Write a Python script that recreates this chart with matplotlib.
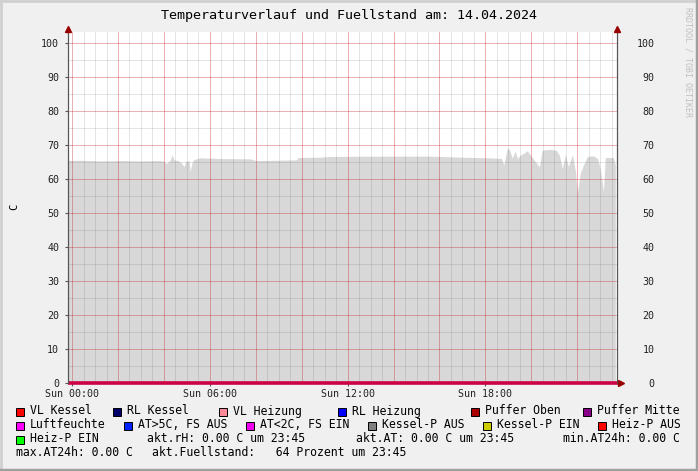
import matplotlib.pyplot as plt
from matplotlib.patches import Rectangle
from matplotlib.lines import Line2D
import numpy as np

W, H = 698, 471
MONO = "DejaVu Sans Mono"

title = "Temperaturverlauf und Fuellstand am: 14.04.2024"
y_label = "C"

# Fuellstand (Prozent), Zeit in Stunden ab Sun 00:00
hours = [-0.19, 0.35, 1.21, 2.08, 2.95, 3.82, 4.0, 4.09, 4.27, 4.36, 4.44, 4.62,
         4.78, 4.87, 4.96, 5.1, 5.14, 5.23, 5.31, 5.57, 6.45, 7.76, 8.02, 9.06,
         9.76, 9.85, 10.8, 11.24, 13.42, 15.6, 16.9, 18.2, 18.7, 18.8, 18.95,
         19.04, 19.17, 19.3, 19.39, 19.52, 19.65, 19.82, 19.95, 20.17, 20.35,
         20.47, 20.82, 21.09, 21.22, 21.35, 21.48, 21.61, 21.79, 21.92, 22.0,
         22.13, 22.27, 22.44, 22.7, 22.88, 23.0, 23.14, 23.22, 23.57, 23.66]
fuellstand = [65.4, 65.5, 65.3, 65.4, 65.3, 65.4, 65.2, 64.5, 65.5, 67.1, 65.6, 65.4,
              64.6, 63.6, 65.2, 65.3, 62.2, 65.0, 65.7, 66.2, 66.0, 65.9, 65.4, 65.5,
              65.6, 66.3, 66.4, 66.6, 66.7, 66.7, 66.4, 66.2, 66.0, 64.1, 69.0,
              68.7, 66.1, 68.2, 66.0, 67.0, 67.5, 68.3, 67.1, 65.1, 63.6,
              68.5, 68.7, 68.4, 67.0, 63.1, 67.1, 63.6, 67.1, 62.2, 55.8,
              61.7, 64.1, 66.6, 66.8, 66.0, 63.1, 56.3, 66.3, 66.3, 64.0]

y_ticks = [0, 10, 20, 30, 40, 50, 60, 70, 80, 90, 100]
x_ticks = [0, 6, 12, 18]
x_labels = ["Sun 00:00", "Sun 06:00", "Sun 12:00", "Sun 18:00"]

row1_names = ["VL Kessel", "RL Kessel", "VL Heizung", "RL Heizung", "Puffer Oben", "Puffer Mitte"]
row1_colors = ["#ff0000", "#000066", "#ff8899", "#0000ff", "#aa0000", "#880088"]
row1_x = [16, 113, 219, 338, 471, 583]
row2_names = ["Luftfeuchte", "AT>5C, FS AUS", "AT<2C, FS EIN", "Kessel-P AUS", "Kessel-P EIN", "Heiz-P AUS"]
row2_colors = ["#ff00ff", "#0022ff", "#ee00ee", "#808080", "#cccc00", "#ff0000"]
row2_x = [16, 124, 246, 368, 483, 598]
row3_names = ["Heiz-P EIN"]
row3_colors = ["#00ff00"]
row3_x = [16]
info_texts = ["akt.rH: 0.00 C um 23:45", "akt.AT: 0.00 C um 23:45", "min.AT24h: 0.00 C",
              "max.AT24h: 0.00 C", "akt.Fuellstand:   64 Prozent um 23:45"]
info_pos = [(147, 439), (356, 439), (563, 439), (16, 453), (152, 453)]

fig = plt.figure(figsize=(W / 100, H / 100), dpi=100, facecolor="#f0f0f0")
ax = fig.add_axes([67.5 / W, 1 - 383 / H, (617 - 67.5) / W, (383 - 32) / H])
ax.set_facecolor("white")
ax.set_xlim(-0.2, 23.73)
ax.set_ylim(0, 103.2)

ax.fill_between(hours, fuellstand, color="#d8d8d8", linewidth=0, zorder=1)

# grid on top of the area, like rrdtool
minor_c = (0.35, 0.35, 0.35, 0.16)
major_c = (1, 0, 0, 0.22)
for x in np.arange(0, 24, 0.5):
    ax.axvline(x, color=minor_c, lw=0.72, zorder=2, snap=True)
for y in np.arange(0, 104, 5):
    ax.axhline(y, color=minor_c, lw=0.72, zorder=2, snap=True)
for x in np.arange(0, 24, 2):
    ax.axvline(x, color=major_c, lw=0.72, zorder=3, snap=True)
for y in y_ticks:
    ax.axhline(y, color=major_c, lw=0.72, zorder=3, snap=True)

ax.set_yticks(y_ticks)
ax.set_yticklabels([str(v) for v in y_ticks], family=MONO, fontsize=7.2, color="#222222")
ax.set_xticks(x_ticks)
ax.set_xticklabels(x_labels, family=MONO, fontsize=7.2, color="#222222")
ax.tick_params(axis="y", length=2, pad=4, color="#555555")
ax.tick_params(axis="x", length=2, pad=2, color="#555555")

ax2 = ax.twinx()
ax2.set_ylim(ax.get_ylim())
ax2.set_yticks(y_ticks)
ax2.set_yticklabels([str(v) for v in y_ticks], family=MONO, fontsize=7.2,
                    color="#222222", ha="right")
ax2.tick_params(axis="y", length=0, pad=27)

for a in (ax, ax2):
    a.spines["top"].set_visible(False)
    a.spines["left"].set_color("#555555")
    a.spines["right"].set_color("#555555")
    a.spines["bottom"].set_visible(False)

# all other series are 0 -> thick line on the zero axis
ax.plot([-0.2, 23.95], [0, 0], color="#cc0044", lw=2.6, zorder=5, clip_on=False,
        solid_capstyle="butt")

# rrdtool arrows
arrow_c = "#990000"
for px, py, m in [(67.5, 29, "^"), (617, 29, "^"), (621, 383, ">")]:
    fig.add_artist(Line2D([px / W], [1 - py / H], marker=m, markersize=4.5,
                          color=arrow_c, transform=fig.transFigure))

fig.text(0.5, 1 - 16 / H, title, ha="center", va="center", family=MONO, fontsize=9.6,
         color="black")
fig.text(14 / W, 1 - 207 / H, y_label, rotation=90, ha="center", va="center",
         family=MONO, fontsize=7.5)
fig.text(688 / W, 1 - 7 / H, "RRDTOOL / TOBI OETIKER", rotation=270, ha="center",
         va="top", family=MONO, fontsize=6.0, color="#c0c0c0")

# legend
for names, colors, xs, yc in [(row1_names, row1_colors, row1_x, 411),
                              (row2_names, row2_colors, row2_x, 425),
                              (row3_names, row3_colors, row3_x, 439)]:
    for name, col, bx in zip(names, colors, xs):
        fig.add_artist(Rectangle((bx / W, 1 - (yc + 4.5) / H), 8 / W, 8 / H,
                                 facecolor=col, edgecolor="black", lw=0.7,
                                 transform=fig.transFigure))
        fig.text((bx + 14) / W, 1 - yc / H, name, ha="left", va="center",
                 family=MONO, fontsize=8.3, color="black")
for txt, (tx, ty) in zip(info_texts, info_pos):
    fig.text(tx / W, 1 - ty / H, txt, ha="left", va="center", family=MONO,
             fontsize=8.3, color="black")

# frame of the image
fig.add_artist(Line2D([0, 1], [1 - 1 / H, 1 - 1 / H], color="#d0d0d0", lw=2,
                      transform=fig.transFigure))
fig.add_artist(Line2D([1 / W, 1 / W], [0, 1], color="#d0d0d0", lw=2,
                      transform=fig.transFigure))
fig.add_artist(Line2D([0, 1], [1.5 / H, 1.5 / H], color="#a0a0a0", lw=2.5,
                      transform=fig.transFigure))
fig.add_artist(Line2D([1 - 1.5 / W, 1 - 1.5 / W], [0, 1], color="#a0a0a0", lw=2.5,
                      transform=fig.transFigure))

fig.savefig("out.png", dpi=100, facecolor=fig.get_facecolor())
